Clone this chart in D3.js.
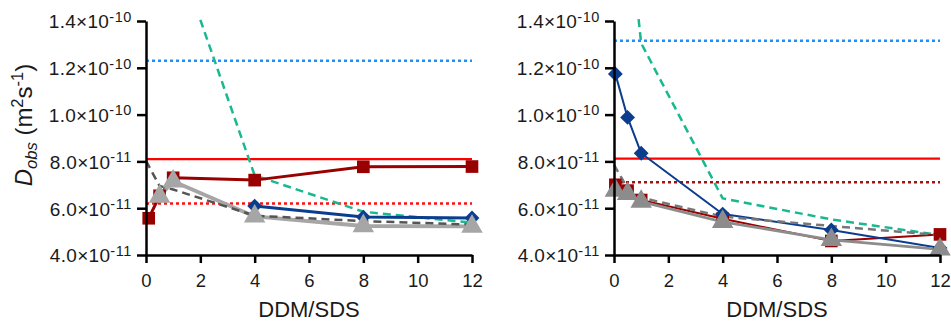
<!DOCTYPE html>
<html>
<head>
<meta charset="utf-8">
<script src="https://cdn.jsdelivr.net/npm/d3@7"></script>
<style>
  body { margin: 0; background: #fff; }
  svg { font-family: "Liberation Sans", Arial, sans-serif; }
</style>
</head>
<body>
<svg id="chart" width="951" height="322"></svg>
<script>
// axis ticks
var xTicks = [0, 2, 4, 6, 8, 10, 12];
var yTicks = [4e-11, 6e-11, 8e-11, 1e-10, 1.2e-10, 1.4e-10];
var yTickMant = ["4.0", "6.0", "8.0", "1.0", "1.2", "1.4"];
var yTickExp = ["-11", "-11", "-11", "-10", "-10", "-10"];

// left panel
var leftSquareX = [0.1, 0.5, 1, 4, 8, 12];
var leftSquareY = [5.57e-11, 6.53e-11, 7.3e-11, 7.2e-11, 7.77e-11, 7.78e-11];
var leftDiamondX = [4, 8, 12];
var leftDiamondY = [6.09e-11, 5.62e-11, 5.58e-11];
var leftTriX = [0.5, 1, 4, 8, 12];
var leftTriY = [6.5e-11, 7.15e-11, 5.65e-11, 5.24e-11, 5.22e-11];
var leftDashX = [0, 0.5, 1, 4, 8, 12];
var leftDashY = [8.02e-11, 6.95e-11, 6.8e-11, 5.68e-11, 5.45e-11, 5.3e-11];
var leftTealX = [2, 4, 8, 12];
var leftTealY = [1.405e-10, 7.4e-11, 5.85e-11, 5.38e-11];
var leftBlueDot = 1.23e-10;
var leftRedSolid = 8.1e-11;
var leftRedDot = 6.2e-11;

// right panel
var rightX = [0.05, 0.5, 1, 4, 8, 12];
var rightDiamondY = [1.174e-10, 9.88e-11, 8.35e-11, 5.75e-11, 5.07e-11, 4.3e-11];
var rightSquareY = [7.0e-11, 6.75e-11, 6.35e-11, 5.55e-11, 4.6e-11, 4.88e-11];
var rightTriY = [6.75e-11, 6.62e-11, 6.28e-11, 5.42e-11, 4.65e-11, 4.24e-11];
var rightDashX = [0, 0.5, 1, 4, 8, 12];
var rightDashY = [7.85e-11, 6.85e-11, 6.45e-11, 5.64e-11, 5.24e-11, 4.85e-11];
var rightTealX = [0.5, 1, 4, 8, 12];
var rightTealY = [1.85e-10, 1.305e-10, 6.42e-11, 5.52e-11, 4.85e-11];
var rightBlueDot = 1.316e-10;
var rightRedSolid = 8.12e-11;
var rightRedDot = 7.11e-11;

var svg = d3.select("#chart");
var y = d3.scaleLinear().domain([4e-11, 1.4e-10]).range([255, 21]);

function zip(xs, ys) { return xs.map(function(d, i) { return [d, ys[i]]; }); }

function drawPanel(x, id, p) {
  var g = svg.append("g");

  g.append("clipPath").attr("id", id)
    .append("rect").attr("x", x.range()[0] - 12).attr("y", 18)
    .attr("width", x.range()[1] - x.range()[0] + 24).attr("height", 250);

  var plot = g.append("g").attr("clip-path", "url(#" + id + ")");
  var line = d3.line().x(function(d) { return x(d[0]); }).y(function(d) { return y(d[1]); });

  function hline(v, color, w, dash) {
    plot.append("path").attr("d", line([[0, v], [12, v]]))
      .attr("fill", "none").attr("stroke", color).attr("stroke-width", w)
      .attr("stroke-dasharray", dash);
  }
  function series(data, color, w, dash) {
    plot.append("path").attr("d", line(data))
      .attr("fill", "none").attr("stroke", color).attr("stroke-width", w)
      .attr("stroke-dasharray", dash).attr("stroke-linejoin", "round");
  }
  function marks(data, type, size, color, rot) {
    plot.selectAll(null).data(data).enter().append("path")
      .attr("transform", function(d) { return "translate(" + x(d[0]) + "," + y(d[1]) + ") rotate(" + rot + ")"; })
      .attr("d", d3.symbol().type(type).size(size))
      .attr("fill", color);
  }

  hline(p.blueDot, "#1e8fff", 2.5, "3,3");
  hline(p.redSolid, "#ff0000", 2.2, null);
  hline(p.redDot, p.redDotColor, 2.5, "3,3");
  series(p.teal, "#19b990", 2.5, "8,5");
  series(p.square, "#990000", p.lw, null);
  series(p.diamond, "#0b3d8e", p.lw, null);
  series(p.tri, p.triColor, p.lw + 0.8, null);
  series(p.dash, p.dashColor, 2.5, "8,5");
  marks(p.square, d3.symbolSquare, 160, "#990000", 0);
  marks(p.diamond, d3.symbolSquare, 110, "#0b3d8e", 45);
  marks(p.tri, d3.symbolTriangle, 200, p.triColor, 0);

  // y axis
  var ya = g.append("g").attr("transform", "translate(" + x.range()[0] + ",0)")
    .call(d3.axisLeft(y).tickValues(yTicks).tickSize(9).tickSizeOuter(0).tickFormat(function() { return ""; }));
  var lab = ya.selectAll(".tick").append("text")
    .attr("x", -14).attr("dy", "0.36em").attr("text-anchor", "end")
    .attr("fill", "#1a1a1a").style("font-size", "19px");
  lab.append("tspan").style("letter-spacing", "0.3px")
    .text(function(d, i) { return yTickMant[i] + "\u00d710"; });
  lab.append("tspan").attr("dy", -6.5).style("font-size", "14.5px").style("letter-spacing", "0.6px")
    .text(function(d, i) { return yTickExp[i]; });

  // x axis
  var xa = g.append("g").attr("transform", "translate(0,255)")
    .call(d3.axisBottom(x).tickValues(xTicks).tickSize(8).tickSizeOuter(0));
  xa.selectAll(".tick text").attr("y", 32).attr("dy", 0)
    .attr("fill", "#1a1a1a").style("font-size", "18.5px");

  [ya, xa].forEach(function(a) {
    a.select(".domain").attr("stroke", "#000").attr("stroke-width", 2.5);
    a.selectAll(".tick line").attr("stroke", "#000").attr("stroke-width", 2.5);
  });

  g.append("text").attr("x", (x.range()[0] + x.range()[1]) / 2).attr("y", 317)
    .attr("text-anchor", "middle").attr("fill", "#1a1a1a").style("font-size", "22px")
    .text("DDM/SDS");
}

drawPanel(d3.scaleLinear().domain([0, 12]).range([146, 472]), "clipL", {
  blueDot: leftBlueDot, redSolid: leftRedSolid, redDot: leftRedDot, redDotColor: "#ff1010",
  teal: zip(leftTealX, leftTealY),
  square: zip(leftSquareX, leftSquareY),
  diamond: zip(leftDiamondX, leftDiamondY),
  tri: zip(leftTriX, leftTriY), triColor: "#a6a6a6",
  dash: zip(leftDashX, leftDashY), dashColor: "#555555",
  lw: 3
});

drawPanel(d3.scaleLinear().domain([0, 12]).range([614, 940]), "clipR", {
  blueDot: rightBlueDot, redSolid: rightRedSolid, redDot: rightRedDot, redDotColor: "#a01414",
  teal: zip(rightTealX, rightTealY),
  square: zip(rightX, rightSquareY),
  diamond: zip(rightX, rightDiamondY),
  tri: zip(rightX, rightTriY), triColor: "#8c8c8c",
  dash: zip(rightDashX, rightDashY), dashColor: "#777777",
  lw: 2
});

// y axis title
var yt = svg.append("text").attr("transform", "translate(32,125) rotate(-90)")
  .attr("text-anchor", "middle").attr("fill", "#1a1a1a").style("font-size", "24px");
yt.append("tspan").style("font-style", "italic").text("D");
yt.append("tspan").style("font-style", "italic").style("font-size", "16.5px").attr("dy", 5).text("obs");
yt.append("tspan").attr("dy", -5).text(" (m");
yt.append("tspan").style("font-size", "16.5px").attr("dy", -9).text("2");
yt.append("tspan").attr("dy", 9).text("s");
yt.append("tspan").style("font-size", "16.5px").attr("dy", -9).text("-1");
yt.append("tspan").attr("dy", 9).text(")");
</script>
</body>
</html>
